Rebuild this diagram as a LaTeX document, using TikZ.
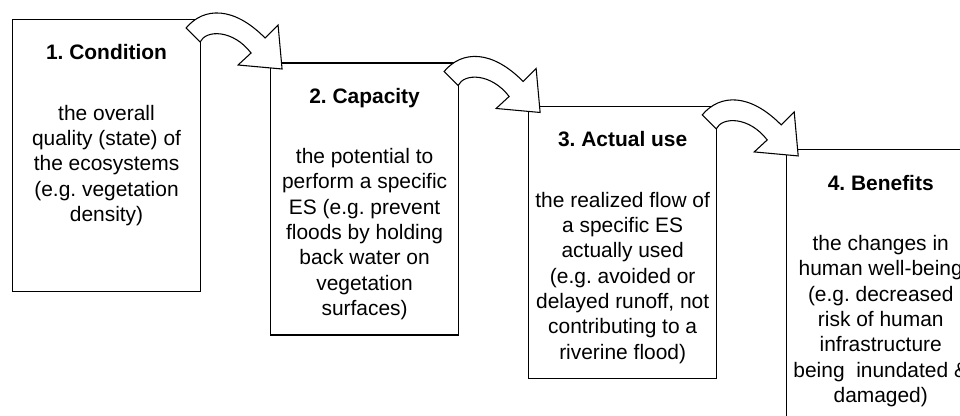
\documentclass[tikz,border=0pt]{standalone}
\usepackage{fontspec}
\setmainfont{Liberation Sans}
\usetikzlibrary{positioning}

\begin{document}
\frenchspacing
\begin{tikzpicture}[x=0.75pt,y=-0.75pt,
  stagebox/.style={draw=black,line width=0.8pt,minimum width=141pt,minimum height=204pt,inner sep=0pt,anchor=north west},
  stagetitle/.style={font=\fontsize{15.7}{19}\selectfont\bfseries,inner sep=0pt,anchor=base},
  stagetext/.style={font=\fontsize{15.7}{19}\selectfont,align=center,inner sep=0pt},
  bendarrow/.pic={\draw[line width=0.8pt,fill=white,line join=miter]
    (-15,9) .. controls (3,-12.5) and (33,-12.5) .. (64,19) -- (77,6) -- (81,50) -- (37,46) -- (50,34)
    .. controls (32,10.5) and (5,10.5) .. (-1,23) -- cycle;}]
  \useasboundingbox (0,0) rectangle (960,416);
  \fill[white] (0,0) rectangle (960,416);
  \clip (0,0) rectangle (960,416);
  % the four stages, each stepped down to the right
  \node[stagebox] (cond) at (12,19) {};
  \node[stagebox,below right=32.6pt and 51.75pt of cond.north east] (capa) {};
  \node[stagebox,below right=32.6pt and 51.75pt of capa.north east] (use) {};
  \node[stagebox,below right=32.6pt and 51.75pt of use.north east] (bene) {};
  % curved arrows between the stages
  \foreach \from in {cond,capa,use}
    \pic at (\from.north east) {bendarrow};
  % titles and descriptions
  \node[stagetitle] (cond-t) at ([yshift=-30.75pt]cond.north) {1. Condition};
  \node[stagetext,below=33.5pt of cond-t.base] (cond-b) {the overall\\quality (state) of\\the ecosystems\\(e.g. vegetation\\density)};
  \node[stagetitle] (capa-t) at ([yshift=-30.75pt]capa.north) {2. Capacity};
  \node[stagetext,below=33.5pt of capa-t.base] (capa-b) {the potential to\\perform a specific\\ES (e.g. prevent\\floods by holding\\back water on\\vegetation\\surfaces)};
  \node[stagetitle] (use-t) at ([yshift=-30.75pt]use.north) {3. Actual use};
  \node[stagetext,below=33.5pt of use-t.base] (use-b) {the realized flow of\\a specific ES\\actually used\\(e.g. avoided or\\delayed runoff, not\\contributing to a\\riverine flood)};
  \node[stagetitle] (bene-t) at ([yshift=-30.75pt]bene.north) {4. Benefits};
  \node[stagetext,below=33.5pt of bene-t.base] (bene-b) {the changes in\\human well-being\\(e.g. decreased\\risk of human\\infrastructure\\being\ \ inundated \&\\damaged)};
\end{tikzpicture}
\end{document}
